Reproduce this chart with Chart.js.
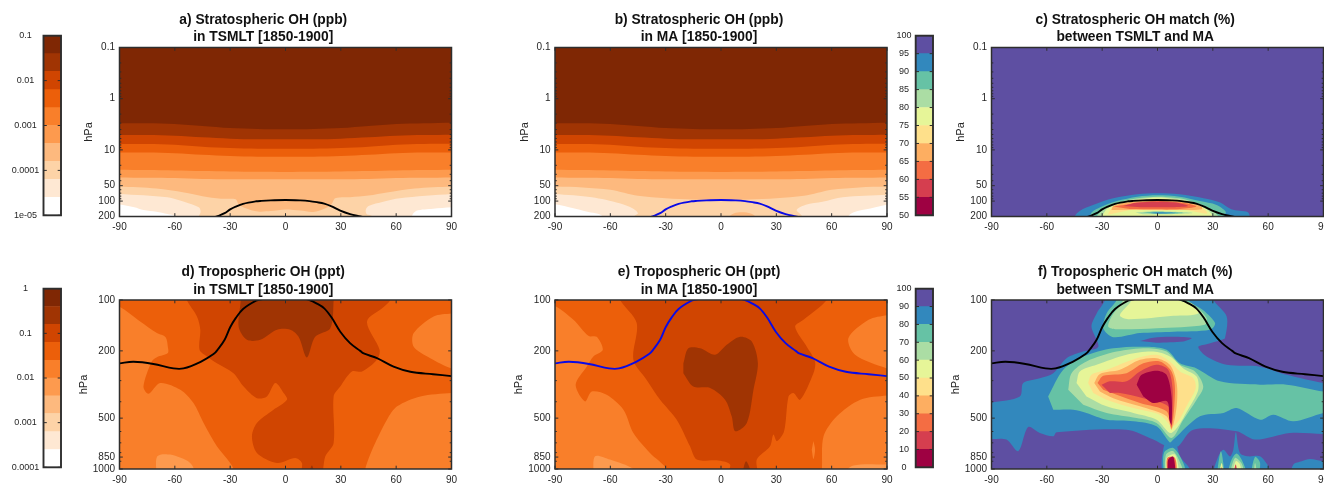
<!DOCTYPE html>
<html>
<head>
<meta charset="utf-8">
<title>Stratospheric and tropospheric OH</title>
<script src="https://cdn.jsdelivr.net/npm/chart.js@4/dist/chart.umd.js"></script>
<style>
    html, body { margin: 0; background: #fff; width: 1324px; height: 484px; overflow: hidden; }
    canvas { position: absolute; filter: blur(0.35px); }
</style>
</head>
<body>
<script>
// Axis ticks
const latTicks = [-90, -60, -30, 0, 30, 60, 90];
const stratTicks = [0.1, 1, 10, 50, 100, 200];
const tropTicks = [100, 200, 500, 850, 1000];
const stratMinor = [0.2, 0.3, 0.4, 0.5, 0.6, 0.7, 0.8, 0.9, 2, 3, 4, 5, 6, 7, 8, 9, 20, 30, 40, 60, 70, 80, 90];
const tropMinor = [300, 400, 600, 700, 800, 900];

// Colour scales
const oranges = ['#FFFFFF', '#FEE8D3', '#FDD3A7', '#FDB97E', '#FD9A4E', '#F97F2A', '#EC5F0A', '#D04501', '#A03403', '#7F2704'];
const spectral = ['#9E0142', '#D53E4F', '#F46D43', '#FDAE61', '#FEE08B', '#E6F598', '#ABDDA4', '#66C2A5', '#3288BD', '#5E4FA2'];
const [WHITE, PALEST, PALE, LIGHT, LORANGE, ORANGE, DORANGE, RED, BROWN, DARK] = oranges;
const [MAROON, CRIMSON, SALMON, AMBER, YELLOW, LIME, LGREEN, TEAL, BLUE, PURPLE] = spectral;

// Colorbar levels and labels
const ppbLevels = [1e-5, 2.5e-5, 6.3e-5, 1.6e-4, 4e-4, 1e-3, 2.5e-3, 6.3e-3, 1.6e-2, 4e-2, 0.1];
const ppbTicks = [1e-5, 1e-4, 1e-3, 0.01, 0.1];
const ppbLabels = ['1e-05', '0.0001', '0.001', '0.01', '0.1'];
const pptLevels = [1e-4, 2.5e-4, 6.3e-4, 1.6e-3, 4e-3, 0.01, 0.025, 0.063, 0.16, 0.4, 1];
const pptTicks = [1e-4, 1e-3, 0.01, 0.1, 1];
const pptLabels = ['0.0001', '0.001', '0.01', '0.1', '1'];
const matchStratLevels = [50, 55, 60, 65, 70, 75, 80, 85, 90, 95, 100];
const matchTropLevels = [0, 10, 20, 30, 40, 50, 60, 70, 80, 90, 100];

// Tropopause (latitude, hPa)
const tropopauseLat = [-90, -82.4, -71.6, -60.7, -55.3, -46, -39, -36.5, -33, -30, -27, -23, -16, -13, -8, 0, 8, 13, 17, 21, 25, 29.7, 35, 40.5, 42.4, 49.6, 58.6, 67.7, 80, 90];
const tropopauseHpa = [237, 232, 239, 254, 254, 232, 209, 195, 172, 145, 128, 113, 101, 99, 97, 95, 97, 100, 105, 112, 127, 154, 180, 200, 207, 221, 248, 266, 275, 282];

// Panels a/b: nearly zonal band edges shared by both models
const bandLat = [-90, -75, -60, -45, -30, -15, 0, 15, 30, 45, 60, 75, 90];
const edgeBrown = [3.02, 3.02, 3.12, 3.4, 3.73, 3.9, 3.96, 3.9, 3.73, 3.4, 3.12, 3.02, 2.95];
const edgeRed = [5.12, 5.12, 5.28, 5.68, 6.03, 6.21, 6.21, 6.21, 6.03, 5.68, 5.28, 5.12, 5.05];
const edgeDorange = [7.67, 7.67, 7.9, 8.65, 9.2, 9.47, 9.5, 9.47, 9.2, 8.65, 7.9, 7.67, 7.6];
const edgeOrange = [11.3, 11.3, 11.65, 12.5, 13.2, 13.6, 13.6, 13.6, 13.2, 12.5, 11.65, 11.3, 11.3];
const edgeLorange = [24.3, 24.7, 25.2, 25.8, 26.3, 26.7, 26.9, 26.7, 26.3, 25.8, 25.2, 24.7, 24.3];
const edgeLight = [34.5, 35, 35.5, 37, 37.5, 37.5, 37.5, 37.5, 37.5, 37, 35.5, 35, 34.5];
const edgePaleB = [52, 54, 60, 79, 88, 93, 95, 93, 88, 79, 60, 54, 52];

const aPale = [[-95, 52], [-90, 52], [-70, 57], [-55, 68], [-45, 80], [-35, 90], [-27, 92], [-25.5, 114], [-22, 136], [-15, 160], [-8, 157], [0, 146], [8, 153], [15, 163], [22, 136], [25, 114], [27, 88], [35, 84], [45, 78], [55, 68], [70, 57], [90, 52], [95, 52], [95, 400], [-95, 400]];
const aPalestLeft = [[-95, 72], [-90, 72.6], [-64, 84], [-55, 103], [-47, 132], [-46, 161], [-47, 200], [-47, 400], [-95, 400]];
const aPalestRight = [[95, 73], [90, 73], [62, 88], [53, 103], [45, 125], [43.5, 149], [44, 179], [47, 200], [47, 400], [95, 400]];
const aWhiteLeft = [[-95, 116], [-90, 116], [-82, 132], [-77, 149], [-70, 161], [-64, 179], [-60, 200], [-60, 400], [-95, 400]];
const aWhiteRight = [[95, 132], [90, 132], [80, 141], [71, 155], [68.5, 200], [68.5, 400], [95, 400]];

const bLightBlob = [[3, 220], [6, 180], [10, 166], [14, 168], [18, 190], [19, 220]];
const bPalestLeft = [[-95, 72], [-90, 72.6], [-70, 84], [-55, 110], [-48, 138], [-45, 173], [-47, 200], [-47, 400], [-95, 400]];
const bPalestRight = [[95, 75], [90, 75], [66, 84], [55, 103], [46, 118], [41, 150], [44, 200], [44, 400], [95, 400]];
const bWhiteLeft = [[-95, 115], [-90, 115], [-80, 138], [-73, 160], [-64, 200], [-64, 400], [-95, 400]];
const bWhiteRight = [[95, 118], [90, 118], [81, 140], [72, 165], [69, 200], [69, 400], [95, 400]];

// Panel c
const cBlue = [[-46, 300], [-45, 200], [-42, 154], [-35, 119], [-24, 88], [-11, 73.7], [0, 70.4], [12, 73.7], [25, 88], [34, 107], [40, 145], [49, 165], [50, 200], [50, 300]];
const cTeal = [[-37, 300], [-36, 173], [-31, 132], [-22, 100], [-11, 82], [0, 77], [12, 82], [23, 100], [32, 119], [37, 161], [36, 200], [36, 300]];
const cLgreen = [[-34, 300], [-33, 200], [-28.6, 138], [-20, 103], [-11, 88], [0, 82], [12, 88], [21, 108], [28, 138], [33, 200], [33, 300]];
const cLime = [[-31, 300], [-30, 200], [-27, 138], [-19, 106], [0, 85], [19, 106], [26.6, 145], [30, 200], [30, 300]];
const cYellow = [[-27, 185], [-24, 128], [-15, 103], [0, 92], [16, 103], [24, 130], [27, 175], [15, 150], [0, 152], [-15, 150]];
const cAmber = [[-25, 150], [-24, 125], [-17, 107], [0, 95], [18, 107], [24, 128], [24, 145], [12, 150], [0, 148], [-12, 148]];
const cSalmon = [[-24, 128], [-13, 112], [0, 100], [16, 112], [21, 128], [12, 143], [0, 145], [-15, 143]];
const cCrimson = [[-18.6, 125], [-11, 107], [0, 103], [10, 107], [16.6, 125], [8, 132], [-9, 132]];
const cLensGreen = [[-12, 168], [-5, 160], [0, 158], [6, 160], [19, 170], [6, 180], [0, 181], [-8, 180]];
const cLensTeal = [[-8, 168], [0, 162], [14, 170], [0, 178]];
const cLensBlue = [[-4, 170], [0, 165], [10, 170], [0, 175]];

// Panel d
const dOrangeLeft = [[-95, 109.5], [-90, 109.5], [-78.8, 134], [-69.7, 157], [-65, 166], [-63.8, 189], [-63.8, 206], [-69.7, 218], [-72.5, 231], [-77, 325], [-74.3, 359], [-67.9, 310], [-57, 340], [-49.9, 407], [-44.4, 534], [-37.2, 734], [-30, 920], [-28.2, 1000], [-28, 1200], [-95, 1200]];
const dOrangeRight = [[95, 355], [90, 355], [73.1, 372], [60.5, 426], [55, 511], [47.8, 734], [44.2, 920], [43.3, 1000], [43, 1200], [95, 1200]];
const dOrangeUpper = [[95, 120], [90, 120], [80.3, 125], [69.5, 157], [69.5, 189], [78.5, 221], [90, 254], [95, 254]];
const dLightBlob = [[-70, 1100], [-69.5, 841], [-62.5, 822], [-51.7, 920], [-48, 1100]];
const dRed = [[-54.5, 85], [-53.5, 100], [-48, 125], [-46.2, 150], [-46.6, 197], [-42.6, 216], [-37.2, 237], [-28.2, 271], [-22.7, 325], [-15.5, 381], [-10.1, 372], [-5.5, 310], [-1, 355], [0.8, 389], [-6.5, 446], [-15.5, 534], [-18.2, 641], [-15.5, 803], [-4.6, 920], [5.3, 860], [8.9, 920], [8.9, 1100], [18.9, 1100], [21.6, 841], [26.1, 701], [26.1, 372], [29.7, 325], [36, 265], [41.5, 265], [49.6, 226], [51, 197], [44.2, 134], [53.2, 110], [56.8, 100], [58, 85]];
const dBrown = [[-24, 85], [-24.2, 100], [-25.4, 144], [-20.9, 172], [-13.7, 172], [-4.6, 150], [2.6, 150], [7.1, 165], [11.6, 219], [16.1, 165], [24.3, 147], [26.1, 100], [26, 85]];
const dBrownLow = [[12.5, 1100], [14.3, 954], [16.1, 1100]];

// Panel e
const eOrangeLeft = [[-95, 108.5], [-90, 108.5], [-80, 131], [-71.9, 163], [-67.4, 165], [-64.1, 197], [-69.2, 216], [-72.8, 248], [-78.8, 317], [-73.7, 398], [-70.1, 348], [-62, 364], [-52.9, 446], [-47.5, 612], [-38.5, 803], [-29.4, 1000], [-29, 1200], [-95, 1200]];
const eLightBlob = [[-69.2, 1100], [-68.3, 841], [-60.2, 880], [-47.5, 1000], [-47, 1100]];
const eOrangeUpper = [[95, 123], [90, 123], [80, 131], [69.1, 168], [72.7, 211], [90, 254], [95, 254]];
const eOrangeRight = [[95, 367], [90, 367], [75.5, 389], [62.8, 488], [55.6, 641], [54.7, 1000], [54, 1200], [95, 1200]];
const eLightRight = [[64.6, 1100], [71.8, 954], [90, 940], [95, 940], [95, 1100]];
const eSliver = [[50.1, 684], [51, 768], [50.1, 872], [49.2, 768]];
const eRed = [[-56, 85], [-54.7, 100], [-45.7, 137], [-47.5, 226], [-40.3, 297], [-33, 389], [-24, 511], [-16.8, 734], [-13.1, 880], [-2.3, 889], [4.9, 940], [4, 1100], [19.4, 1100], [19.4, 880], [26.6, 734], [28.4, 626], [30.3, 684], [34.2, 598], [36.6, 372], [39.3, 355], [42.9, 389], [50.1, 271], [51, 231], [46.5, 189], [40.2, 144], [44.7, 131], [57.4, 100], [59, 85]];
const eBrown = [[-20.4, 237], [-17.7, 193], [-11.3, 193], [-3.2, 211], [3.1, 184], [10.4, 165], [16.7, 176], [20, 237], [17.6, 340], [14, 534], [7.7, 598], [5.8, 488], [2.2, 389], [-5.9, 332], [-15, 325], [-20.4, 271]];
const eBrownLow = [[11.3, 1100], [13.6, 900], [17.2, 1100]];

// Panel f
const fBlueMain = [[-28.5, 85], [-28.5, 100], [-33, 120], [-35.8, 144], [-32.1, 189], [-40.3, 202], [-49.3, 221], [-56.5, 271], [-63.8, 290], [-72.8, 310], [-74.6, 372], [-90, 404], [-95, 404], [-95, 664], [-90, 664], [-81.9, 670], [-75.5, 785], [-70.1, 565], [-63.8, 612], [-56.5, 641], [-54.7, 606], [-16.8, 585], [-2.3, 670], [4.9, 734], [9.5, 734], [11.3, 734], [19.4, 585], [42.9, 598], [52.9, 670], [71.8, 612], [90, 620], [95, 620], [95, 310], [90, 310], [70, 277], [55.6, 248], [37.5, 242], [26.6, 216], [22.1, 190], [26.6, 183], [34.8, 172], [36.6, 168], [37.5, 125], [30.3, 100], [29.5, 85]];
const fBlueNeck = [[2.8, 1100], [2.2, 920], [3.1, 768], [4.9, 684], [9.5, 684], [12.2, 841], [17.6, 1000], [18, 1100]];
const fBlueSpikes = [[29.4, 1100], [33, 841], [35.7, 768], [39.3, 841], [41.1, 768], [42.5, 606], [44.7, 803], [49.2, 841], [55.6, 841], [61, 1000], [62, 1100]];
const fBlueCorner = [[71.8, 1100], [73.7, 940], [78.2, 900], [82.7, 872], [90, 900], [95, 900], [95, 1100]];
const fTealUpper = [[-22.2, 85], [-22.2, 100], [-27.6, 120], [-29.4, 147], [-24, 166], [-9.5, 157], [8.6, 154], [28.4, 150], [31.2, 137], [24.8, 115], [16.7, 100], [16.7, 85]];
const fLgreenUpper = [[-18.6, 85], [-18.6, 100], [-24.9, 125], [-26.7, 144], [-22.2, 149], [-0.5, 147], [25.7, 140], [26.6, 128], [21.2, 110], [14.9, 100], [14.9, 85]];
const fLimeUpper = [[-14, 85], [-14, 100], [-20.4, 123], [-15.9, 130], [8.6, 124], [22.1, 120], [18.5, 105], [11.3, 100], [11.3, 85]];
const fLens = [[-9.5, 175], [-2.3, 167], [8.6, 165], [18.5, 168], [14, 176], [-0.5, 179]];
const fTealMain = [[-59.3, 372], [-51.1, 259], [-40.3, 216], [-24, 193], [-5.9, 189], [4.9, 197], [12.2, 237], [21.2, 254], [33.9, 303], [55.6, 317], [70, 317], [90, 348], [95, 348], [95, 466], [90, 466], [73.7, 522], [62.8, 477], [55.6, 511], [42.9, 436], [35.7, 466], [23, 488], [8.6, 670], [6.7, 696], [-0.5, 559], [-13.1, 522], [-27.6, 511], [-38.5, 466], [-45.7, 446], [-56.5, 446]];
const fLgreen = [[-48.4, 340], [-46.6, 271], [-38.5, 231], [-22.2, 202], [-5.9, 193], [4.9, 202], [12.2, 242], [20.3, 265], [24.8, 325], [21.2, 389], [14, 511], [7.6, 655], [-0.5, 534], [-11.3, 499], [-27.6, 466], [-40.3, 416]];
const fLime = [[-43.9, 310], [-42.1, 265], [-33, 242], [-16.8, 211], [-2.3, 202], [6.7, 216], [14, 254], [21.2, 284], [22.1, 340], [17.6, 426], [7.6, 612], [-0.5, 511], [-13.1, 466], [-27.6, 426], [-38.5, 372]];
const fYellow = [[-37.6, 310], [-35.8, 277], [-27.6, 259], [-11.3, 221], [-0.5, 211], [6.7, 231], [12.2, 265], [19.4, 290], [20.7, 332], [16.7, 407], [8.6, 559], [1.3, 477], [-13.1, 436], [-27.6, 389], [-34.8, 355]];
const fAmber = [[-34.3, 310], [-31.2, 274], [-20.4, 259], [-9.5, 226], [-0.5, 221], [6.7, 242], [10.4, 310], [10.4, 426], [7.6, 585], [4.9, 488], [-9.5, 426], [-24, 381], [-31.2, 348]];
const fSalmon = [[-32.5, 310], [-29.4, 281], [-16.8, 271], [-7.7, 237], [1.3, 231], [7.6, 265], [9.5, 340], [7.6, 572], [4.9, 456], [-9.5, 407], [-22.2, 364], [-29.4, 340]];
const fCrimson = [[-30.3, 317], [-25.8, 303], [-16.8, 303], [-9.5, 265], [-0.5, 242], [5.8, 259], [8.2, 340], [7.6, 559], [5.8, 426], [-7.7, 381], [-20.4, 355], [-25.8, 355]];
const fMaroon = [[-11.3, 317], [-8.6, 277], [-0.5, 262], [4.9, 277], [7.6, 372], [7.6, 546], [6.4, 511], [5.3, 398], [-2.3, 407], [-7.7, 372]];
const fNeckTeal = [[3.5, 1100], [3.5, 803], [8.6, 751], [14, 920], [15.8, 1100]];
const fNeckGreen = [[4, 1100], [4.6, 822], [8.6, 785], [13.1, 963], [14, 1100]];
const fNeckLime = [[4.8, 1100], [4.9, 860], [9.5, 822], [12.2, 1100]];
const fNeckSalmon = [[5.3, 1100], [5.3, 860], [9.5, 860], [10.7, 1100]];
const fNeckMaroon = [[5.7, 1100], [5.8, 880], [8.6, 846], [10, 1100]];
const fSpike1Teal = [[32, 1100], [34.4, 785], [36.6, 1100]];
const fSpike1Lime = [[33.2, 1100], [34.8, 920], [36, 1100]];
const fSpike1Salmon = [[34, 1100], [34.8, 972], [35.4, 1100]];
const fSpike2Teal = [[37.5, 1100], [40.2, 880], [42.9, 811], [45.6, 880], [49.2, 1100]];
const fSpike2Green = [[38.9, 1100], [42, 860], [45.6, 928], [47.4, 1100]];
const fSpike2Lime = [[40.2, 1100], [42.4, 900], [44.7, 940], [45.6, 1100]];
const fSpike2Crimson = [[41.1, 1100], [42.4, 940], [43.5, 1100]];
const fSpike3Teal = [[50.3, 1100], [52.9, 849], [55.6, 920], [54.7, 1100]];
const fSpike3Green = [[52, 1100], [52.9, 920], [54.2, 1100]];

Chart.defaults.font.family = '"Liberation Sans", Arial, sans-serif';
Chart.defaults.color = '#262626';
Chart.defaults.animation = false;

const TEXT = '#262626';
const FRAME = '#2e2e2e';
const PLOT_WIDTH = 332;
const PLOT_HEIGHT = 169;
const NO_GRID = { display: false, drawTicks: false };

// Frame and inward tick marks, MATLAB style
function frameTicks(minor, xTicks, frameWidth) {
    return {
        id: 'frameTicks',
        afterDatasetsDraw(chart) {
            const { ctx, chartArea: a, scales } = chart;
            ctx.save();
            ctx.strokeStyle = FRAME;
            ctx.lineWidth = 1;
            ctx.beginPath();
            const ySide = (v, len) => {
                const py = scales.y.getPixelForValue(v);
                ctx.moveTo(a.left, py); ctx.lineTo(a.left + len, py);
                ctx.moveTo(a.right, py); ctx.lineTo(a.right - len, py);
            };
            scales.y.ticks.forEach(t => ySide(t.value, 3.3));
            minor.forEach(v => ySide(v, 1.8));
            xTicks.forEach(v => {
                const px = scales.x.getPixelForValue(v);
                ctx.moveTo(px, a.top); ctx.lineTo(px, a.top + 3.3);
                ctx.moveTo(px, a.bottom); ctx.lineTo(px, a.bottom - 3.3);
            });
            ctx.stroke();
            ctx.lineWidth = frameWidth;
            ctx.strokeRect(a.left, a.top, a.right - a.left, a.bottom - a.top);
            ctx.restore();
        }
    };
}

function addCanvas(left, top, width, height) {
    const canvas = document.createElement('canvas');
    canvas.width = width;
    canvas.height = height;
    canvas.style.left = left + 'px';
    canvas.style.top = top + 'px';
    canvas.style.width = width + 'px';
    canvas.style.height = height + 'px';
    document.body.appendChild(canvas);
    return canvas;
}

function toPoints(list) {
    return list.map(([x, y]) => ({ x, y }));
}

// Everything below a zonal edge, run past the plot so the spline stays outside it
function below(lats, hpa, bottom) {
    const edge = lats.map((lat, i) => [lat, hpa[i]]);
    return [[-95, hpa[0]], ...edge, [95, hpa[hpa.length - 1]], [95, bottom], [-95, bottom]];
}

function area(color, polygon, tension = 0.3) {
    return { data: toPoints(polygon), showLine: true, fill: 'shape', backgroundColor: color, borderWidth: 0, pointRadius: 0, tension };
}

function wholePlot(color) {
    return area(color, [[-95, 0.01], [95, 0.01], [95, 5000], [-95, 5000]], 0);
}

function tropopause(color) {
    return {
        data: tropopauseLat.map((x, i) => ({ x, y: tropopauseHpa[i] })),
        showLine: true, fill: false, borderColor: color, borderWidth: 1.9, pointRadius: 0, tension: 0.35
    };
}

function drawPanel(p) {
    const marginX = p.marginX;
    const width = marginX * 2 + PLOT_WIDTH;
    const isStrat = p.yTicks === stratTicks;
    // first dataset is painted last in Chart.js, so reverse the painter's order
    const datasets = [tropopause(p.lineColor), ...p.layers.slice().reverse()];
    new Chart(addCanvas(p.left, p.top, width, p.height), {
        type: 'scatter',
        data: { datasets },
        plugins: [frameTicks(p.yMinor, latTicks, 1.5)],
        options: {
            responsive: false,
            layout: { autoPadding: false, padding: { top: p.padTop, left: 0, right: marginX, bottom: 0 } },
            plugins: {
                legend: { display: false },
                tooltip: { enabled: false },
                title: {
                    display: true,
                    text: p.title,
                    color: '#111',
                    font: { size: 13.8, weight: 'bold', lineHeight: 1.25 },
                    padding: { top: 0, bottom: 1.5 }
                }
            },
            scales: {
                x: {
                    type: 'linear', min: -90, max: 90,
                    grid: NO_GRID, border: { display: false },
                    afterBuildTicks: s => { s.ticks = latTicks.map(value => ({ value })); },
                    afterFit: s => { s.height = p.xHeight; },
                    ticks: { color: TEXT, font: { size: 10 }, padding: p.xPad, maxRotation: 0, autoSkip: false, callback: v => String(v) }
                },
                y: {
                    type: 'logarithmic', reverse: true, min: p.yTicks[0], max: p.yTicks[p.yTicks.length - 1],
                    grid: NO_GRID, border: { display: false },
                    afterBuildTicks: s => { s.ticks = p.yTicks.map(value => ({ value })); },
                    afterFit: s => { s.width = marginX; },
                    ticks: { color: TEXT, font: { size: 10 }, padding: 4.5, autoSkip: false, callback: v => String(v) },
                    title: { display: true, text: 'hPa', color: TEXT, font: { size: 11 }, padding: { top: isStrat ? marginX - 37.1 : marginX - 42.6, bottom: 0 } }
                }
            }
        }
    });
}

function drawColorbar(c) {
    const yOptions = c.log
        ? { type: 'logarithmic' }
        : { type: 'linear' };
    new Chart(addCanvas(c.left, c.top, c.width, c.height), {
        type: 'bar',
        data: {
            labels: [''],
            datasets: c.colors.map((color, i) => ({
                data: [[c.levels[i], c.levels[i + 1]]],
                backgroundColor: color, borderWidth: 0, borderSkipped: false,
                barPercentage: 1, categoryPercentage: 1, grouped: false
            }))
        },
        plugins: [frameTicks([], [], 1.9)],
        options: {
            responsive: false,
            layout: { autoPadding: false, padding: { top: 8, bottom: 8, left: 0, right: c.padRight } },
            plugins: { legend: { display: false }, tooltip: { enabled: false } },
            scales: {
                x: { display: false },
                y: {
                    ...yOptions,
                    min: c.levels[0], max: c.levels[c.levels.length - 1],
                    grid: NO_GRID, border: { display: false },
                    afterBuildTicks: s => { s.ticks = c.ticks.map(value => ({ value })); },
                    afterFit: s => { s.width = c.axisWidth; },
                    ticks: {
                        color: TEXT, font: { size: 9 }, padding: 4.3, autoSkip: false, crossAlign: 'center',
                        callback: (v, i) => c.labels[i]
                    }
                }
            }
        }
    });
}

const stratBands = [
    area(BROWN, below(bandLat, edgeBrown, 400)),
    area(RED, below(bandLat, edgeRed, 400)),
    area(DORANGE, below(bandLat, edgeDorange, 400)),
    area(ORANGE, below(bandLat, edgeOrange, 400)),
    area(LORANGE, below(bandLat, edgeLorange, 400)),
    area(LIGHT, below(bandLat, edgeLight, 400))
];
const row1 = { top: 8, height: 233, padTop: 3.5, xHeight: 24.5, xPad: 4.5, yTicks: stratTicks, yMinor: stratMinor };
const row2 = { top: 260, height: 234, padTop: 4, xHeight: 25, xPad: 5.5, yTicks: tropTicks, yMinor: tropMinor };

drawPanel({
    ...row1, left: 75, marginX: 44.5, lineColor: '#000',
    title: ['a) Stratospheric OH (ppb)', 'in TSMLT [1850-1900]'],
    layers: [wholePlot(DARK), ...stratBands,
        area(PALE, aPale), area(PALEST, aPalestLeft), area(PALEST, aPalestRight),
        area(WHITE, aWhiteLeft), area(WHITE, aWhiteRight)]
});
drawPanel({
    ...row1, left: 511, marginX: 44, lineColor: '#0a0ae6',
    title: ['b) Stratospheric OH (ppb)', 'in MA [1850-1900]'],
    layers: [wholePlot(DARK), ...stratBands,
        area(PALE, below(bandLat, edgePaleB, 400)), area(LIGHT, bLightBlob),
        area(PALEST, bPalestLeft), area(PALEST, bPalestRight),
        area(WHITE, bWhiteLeft), area(WHITE, bWhiteRight)]
});
drawPanel({
    ...row1, left: 947, marginX: 44.5, lineColor: '#000',
    title: ['c) Stratospheric OH match (%)', 'between TSMLT and MA'],
    layers: [wholePlot(PURPLE),
        area(BLUE, cBlue), area(TEAL, cTeal), area(LGREEN, cLgreen), area(LIME, cLime),
        area(YELLOW, cYellow), area(AMBER, cAmber), area(SALMON, cSalmon), area(CRIMSON, cCrimson),
        area(LGREEN, cLensGreen), area(TEAL, cLensTeal), area(BLUE, cLensBlue)]
});
drawPanel({
    ...row2, left: 75, marginX: 44.5, lineColor: '#000',
    title: ['d) Tropospheric OH (ppt)', 'in TSMLT [1850-1900]'],
    layers: [wholePlot(DORANGE),
        area(ORANGE, dOrangeLeft), area(ORANGE, dOrangeRight), area(ORANGE, dOrangeUpper),
        area(LORANGE, dLightBlob), area(RED, dRed), area(BROWN, dBrown), area(BROWN, dBrownLow)]
});
drawPanel({
    ...row2, left: 511, marginX: 44, lineColor: '#0a0ae6',
    title: ['e) Tropospheric OH (ppt)', 'in MA [1850-1900]'],
    layers: [wholePlot(DORANGE),
        area(ORANGE, eOrangeLeft), area(ORANGE, eOrangeRight), area(ORANGE, eOrangeUpper), area(ORANGE, eSliver),
        area(LORANGE, eLightBlob), area(LORANGE, eLightRight), area(RED, eRed), area(BROWN, eBrown), area(BROWN, eBrownLow)]
});
drawPanel({
    ...row2, left: 947, marginX: 44.5, lineColor: '#000',
    title: ['f) Tropospheric OH match (%)', 'between TSMLT and MA'],
    layers: [wholePlot(PURPLE),
        area(BLUE, fBlueMain), area(BLUE, fBlueNeck), area(BLUE, fBlueSpikes), area(BLUE, fBlueCorner),
        area(TEAL, fTealUpper), area(LGREEN, fLgreenUpper), area(LIME, fLimeUpper), area(PURPLE, fLens),
        area(TEAL, fTealMain), area(LGREEN, fLgreen), area(LIME, fLime), area(YELLOW, fYellow),
        area(AMBER, fAmber), area(SALMON, fSalmon), area(CRIMSON, fCrimson), area(MAROON, fMaroon),
        area(TEAL, fNeckTeal), area(LGREEN, fNeckGreen), area(LIME, fNeckLime), area(SALMON, fNeckSalmon), area(MAROON, fNeckMaroon),
        area(TEAL, fSpike1Teal), area(LIME, fSpike1Lime), area(SALMON, fSpike1Salmon),
        area(TEAL, fSpike2Teal), area(LGREEN, fSpike2Green), area(LIME, fSpike2Lime), area(CRIMSON, fSpike2Crimson),
        area(TEAL, fSpike3Teal), area(LGREEN, fSpike3Green)]
});

drawColorbar({ left: 0, top: 26, width: 70, height: 199, axisWidth: 43.5, padRight: 9, log: true, colors: oranges, levels: ppbLevels, ticks: ppbTicks, labels: ppbLabels });
drawColorbar({ left: 0, top: 279, width: 70, height: 198, axisWidth: 43.5, padRight: 9, log: true, colors: oranges, levels: pptLevels, ticks: pptTicks, labels: pptLabels });
drawColorbar({ left: 870, top: 26, width: 71, height: 199, axisWidth: 45.7, padRight: 8, log: false, colors: spectral, levels: matchStratLevels, ticks: matchStratLevels, labels: matchStratLevels });
drawColorbar({ left: 870, top: 279, width: 71, height: 198, axisWidth: 45.7, padRight: 8, log: false, colors: spectral, levels: matchTropLevels, ticks: matchTropLevels, labels: matchTropLevels });
</script>
</body>
</html>
